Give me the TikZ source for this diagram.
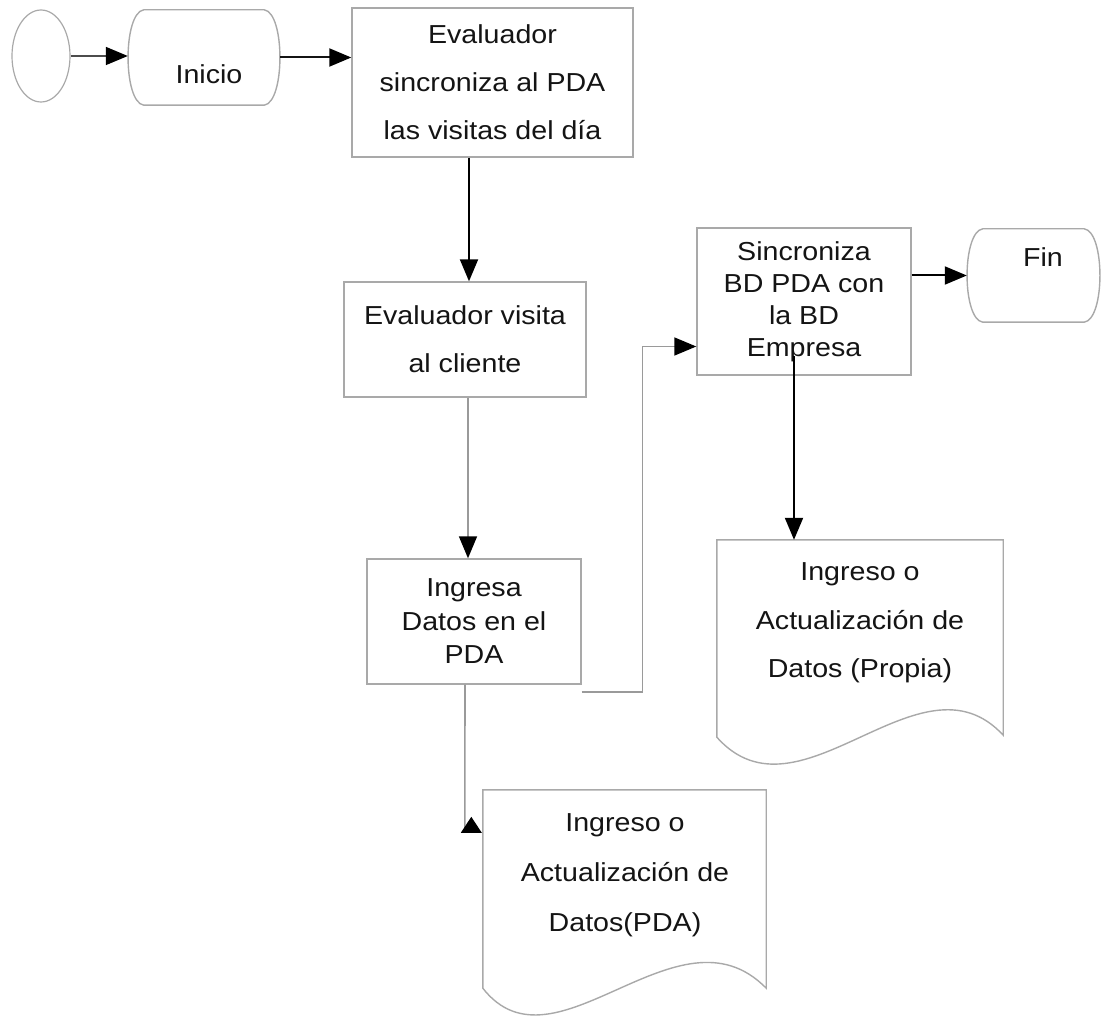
\documentclass[tikz,border=0pt]{standalone}
\usepackage{fontspec}
\setmainfont{Liberation Sans}[FakeStretch=1.1]
\usetikzlibrary{arrows.meta,calc,shapes.geometric}

\definecolor{borde}{HTML}{A9A9A9}
\definecolor{lineagris}{HTML}{9A9A9A}
\definecolor{tinta}{HTML}{141414}

\tikzset{
  caja/.style={draw=borde, line width=1.4pt, fill=white, inner sep=0pt},
  cuerpo/.style={inner sep=0pt},
  texto/.style={text=tinta, align=center, inner sep=0pt},
  punta/.style={-{Triangle[length=22pt,width=18pt,color=black]}},
  flecha/.style={punta, draw=black, line width=2pt},
  flechagris/.style={punta, draw=lineagris, line width=1.6pt},
  hoja/.style={draw=borde, line width=1.4pt, fill=white}
}

\newcommand{\grande}{\fontsize{26}{48}\selectfont}

% terminal outline: straight top and bottom, rounded bulging sides
\newcommand{\terminador}[1]{%
  \draw[hoja] ($(#1.north west)+(16,0)$) -- ($(#1.north east)+(-16,0)$)
    .. controls ($(#1.north east)+(5,3)$) and ($(#1.south east)+(5,-3)$) .. ($(#1.south east)+(-16,0)$)
    -- ($(#1.south west)+(16,0)$)
    .. controls ($(#1.south west)+(-5,-3)$) and ($(#1.north west)+(-5,3)$) .. cycle;}

\begin{document}
\begin{tikzpicture}[x=1pt, y=-1pt]
\useasboundingbox (0,0) rectangle (1103,1016);

% start marker and terminals
\node[ellipse, draw=borde, line width=1.2pt, minimum width=58pt, minimum height=92pt, inner sep=0pt] (origen) at (41,56) {};
\node[cuerpo, minimum width=152pt, minimum height=95pt] (inicio) at (204,57.5) {};
\terminador{inicio}
\node[texto, font=\grande] (inicio-t) at (209,74.5) {Inicio};
\node[cuerpo, minimum width=133pt, minimum height=93pt] (fin) at (1033.5,275.5) {};
\terminador{fin}
\node[texto, font=\grande] (fin-t) at (1043,257) {Fin};

% process boxes
\node[caja, texto, font=\grande, minimum width=281pt, minimum height=149pt] (sincpda) at (492.5,82.5)
  {Evaluador\\sincroniza al PDA\\las visitas del día};
\node[caja, texto, font=\grande, minimum width=242pt, minimum height=115pt] (visita) at (465,339.5)
  {Evaluador visita\\al cliente};
\node[caja, texto, font=\fontsize{26}{33.5}\selectfont, minimum width=214pt, minimum height=125pt] (ingresa) at (474,621.5)
  {Ingresa\\Datos en el\\PDA};
\node[caja, texto, font=\fontsize{26}{32}\selectfont, minimum width=214pt, minimum height=147pt] (sincbd) at (804,301.5)
  {Sincroniza\\BD PDA con\\la BD\\Empresa};

% document shapes (body nodes, outline with wavy bottom)
\node[cuerpo, minimum width=286pt, minimum height=197pt] (propia) at (860,638.5) {};
\draw[hoja] (propia.south west) -- (propia.north west) -- (propia.north east) -- ($(propia.south east)+(0,-2)$)
  .. controls ($(propia.south east)+(-83,-92)$) and ($(propia.south west)+(83,93)$) .. (propia.south west) -- cycle;
\node[texto, font=\fontsize{26}{48.5}\selectfont] (propia-t) at (860,623) {Ingreso o\\Actualización de\\Datos (Propia)};

\node[cuerpo, minimum width=283pt, minimum height=198pt] (pda) at (624.5,889) {};
\draw[hoja] (pda.south west) -- (pda.north west) -- (pda.north east) -- (pda.south east)
  .. controls ($(pda.south east)+(-88,-90)$) and ($(pda.south west)+(72,92)$) .. (pda.south west) -- cycle;
\node[texto, font=\fontsize{26}{50}\selectfont] (pda-t) at (625,875) {Ingreso o\\Actualización de\\Datos(PDA)};

% connectors
\draw[flechagris, draw=black!70] (origen.east) -- (origen.east -| inicio.west);
\draw[flecha, draw=tinta] (inicio.east) -- (inicio.east -| sincpda.west);
\coordinate (baja1) at ($(visita.north)+(4,0)$);
\draw[flecha] (baja1 |- sincpda.south) -- (baja1);
\coordinate (baja2) at ($(visita.south)+(3,0)$);
\draw[flechagris] (baja2) -- (baja2 |- ingresa.north);
\coordinate (codo) at ($(sincbd.west)+(-54,45)$);
\draw[flechagris] ($(ingresa.south east)+(0,7)$) -| (codo) -- (codo -| sincbd.west);
\draw[flecha] (sincbd.east |- fin.west) -- (fin.west);
\coordinate (baja3) at ($(sincbd.south)+(-10,-20)$);
\draw[flecha] (baja3) -- (baja3 |- propia.north);

% link down to the PDA document, head pointing up
\coordinate (pie) at ($(pda.north west)+(-18,43)$);
\draw[draw=lineagris, line width=1.6pt] ($(ingresa.south)+(-9,0)$) -- (pie);
\fill[black] ($(pda.north west)+(-22,43)$) -- ($(pda.north west)+(-1,43)$) -- ($(pda.north west)+(-11.5,27)$) -- cycle;
\end{tikzpicture}
\end{document}
